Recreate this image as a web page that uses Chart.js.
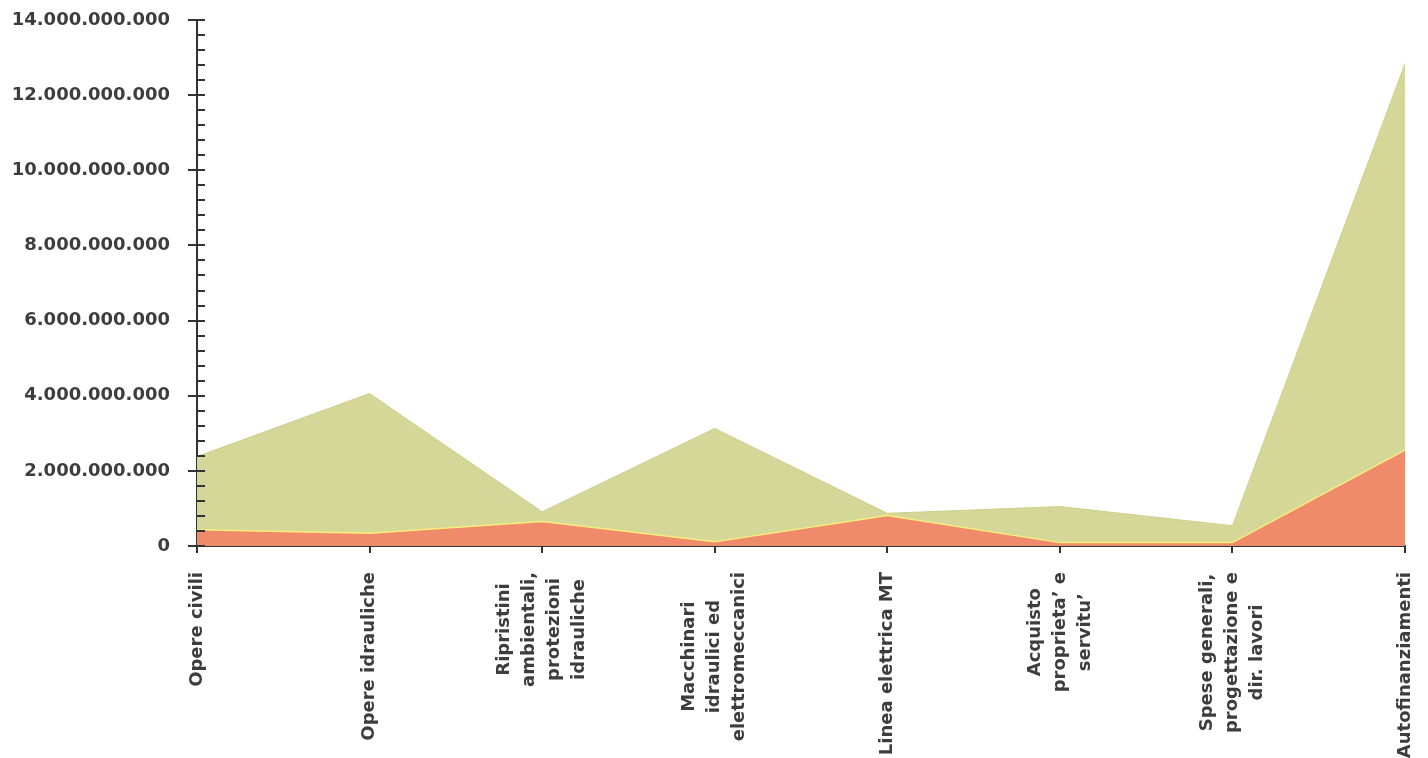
<!DOCTYPE html>
<html>
<head>
<meta charset="utf-8">
<script src="https://cdn.jsdelivr.net/npm/chart.js@4.4.1/dist/chart.umd.min.js"></script>
<style>
  html, body { margin: 0; padding: 0; background: #fff; }
  #wrap { width: 1428px; height: 758px; position: relative; }
</style>
</head>
<body>
<div id="wrap"><canvas id="costi"></canvas></div>
<script>
var categorie = [
  ["Opere civili"],
  ["Opere idrauliche"],
  ["Ripristini", "ambientali,", "protezioni", "idrauliche"],
  ["Macchinari", "idraulici ed", "elettromeccanici"],
  ["Linea elettrica MT"],
  ["Acquisto", "proprieta\u2019 e", "servitu\u2019"],
  ["Spese generali,", "progettazione e", "dir. lavori"],
  ["Autofinanziamenti"]
];
var importoTotale = [2380000000, 4060000000, 910000000, 3130000000, 870000000, 1050000000, 540000000, 12840000000];
var importoQuota = [430000000, 340000000, 650000000, 110000000, 810000000, 90000000, 90000000, 2550000000];
var yMax = 14000000000;
var yPasso = 2000000000;
var yPassoMinore = 400000000;

var colTesto = '#3d3d3d';
var colAsse = '#333333';
var fontLabel = 'bold 18px "DejaVu Sans"';

function puntini(v) {
  return String(Math.round(v)).replace(/\B(?=(\d{3})+(?!\d))/g, '.');
}

// tacche dell'asse y (principali e secondarie) + etichette categorie centrate e ruotate
var asseExtra = {
  id: 'asseExtra',
  afterDraw: function (chart) {
    var ctx = chart.ctx;
    var ys = chart.scales.y, xs = chart.scales.x;
    var x0 = chart.chartArea.left;
    ctx.save();
    ctx.strokeStyle = colAsse;
    ctx.lineWidth = 2;
    var n = Math.round(yMax / yPassoMinore);
    for (var i = 0; i <= n; i++) {
      var v = i * yPassoMinore;
      var py = Math.round(ys.getPixelForValue(v));
      var major = (v % yPasso) === 0;
      ctx.beginPath();
      ctx.moveTo(major ? x0 - 9 : x0 - 1, py);
      ctx.lineTo(x0 + 8, py);
      ctx.stroke();
    }
    ctx.font = fontLabel;
    ctx.fillStyle = colTesto;
    ctx.textAlign = 'center';
    ctx.textBaseline = 'middle';
    var top = chart.chartArea.bottom + 26;
    var lineH = 25;
    categorie.forEach(function (righe, idx) {
      var px = xs.getPixelForTick(idx);
      var w = 0;
      righe.forEach(function (r) { w = Math.max(w, ctx.measureText(r).width); });
      ctx.save();
      ctx.translate(px, top);
      ctx.rotate(-Math.PI / 2);
      righe.forEach(function (r, k) {
        ctx.fillText(r, -w / 2, (k - (righe.length - 1) / 2) * lineH);
      });
      ctx.restore();
    });
    ctx.restore();
  }
};

function senzaPadding(s) {
  s.paddingTop = 0;
  s.paddingBottom = 0;
  s.paddingLeft = 0;
  s.paddingRight = 0;
}

var ctx = document.getElementById('costi').getContext('2d');
var grafico = new Chart(ctx, {
  type: 'line',
  data: {
    labels: categorie,
    datasets: [{
      label: 'Quota',
      data: importoQuota,
      fill: 'origin',
      backgroundColor: 'rgb(239,138,106)',
      borderColor: 'rgb(248,238,125)',
      borderWidth: 1.5,
      pointRadius: 0,
      tension: 0
    }, {
      label: 'Totale',
      data: importoTotale,
      fill: 'origin',
      backgroundColor: 'rgb(213,215,153)',
      borderColor: 'rgb(205,208,140)',
      borderWidth: 1,
      pointRadius: 0,
      tension: 0
    }]
  },
  options: {
    responsive: true,
    maintainAspectRatio: false,
    animation: false,
    layout: { padding: { top: 20, right: 23, left: 0, bottom: 0 } },
    plugins: { legend: { display: false }, tooltip: { enabled: false } },
    scales: {
      x: {
        offset: false,
        afterFit: function (s) { s.height = 212; senzaPadding(s); },
        border: { display: true, color: colAsse, width: 2 },
        grid: { display: true, drawOnChartArea: false, drawTicks: true, tickLength: 7, color: colAsse, lineWidth: 2 },
        ticks: { display: false }
      },
      y: {
        min: 0,
        max: yMax,
        afterFit: function (s) { s.width = 197; senzaPadding(s); },
        border: { display: true, color: colAsse, width: 2 },
        grid: { display: true, drawOnChartArea: false, drawTicks: false },
        ticks: {
          stepSize: yPasso,
          padding: 27,
          color: colTesto,
          font: { family: 'DejaVu Sans', size: 18, weight: 'bold' },
          callback: function (v) { return puntini(v); }
        }
      }
    }
  },
  plugins: [asseExtra]
});
</script>
</body>
</html>
